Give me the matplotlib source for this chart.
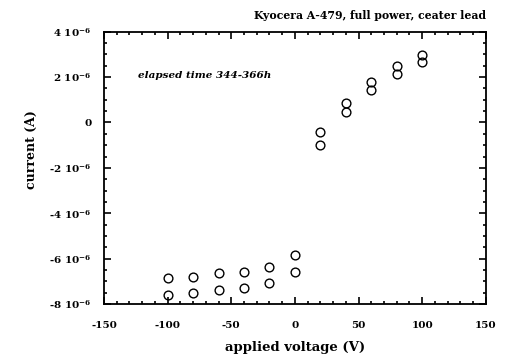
import numpy as np
import matplotlib
matplotlib.use("Agg")
import matplotlib.pyplot as plt
from matplotlib.ticker import MultipleLocator

plt.rcParams['font.family'] = ['DejaVu Serif']
plt.rcParams['font.weight'] = 'bold'
plt.rcParams['axes.unicode_minus'] = False
plt.rcParams['mathtext.fontset'] = 'custom'
plt.rcParams['mathtext.rm'] = 'DejaVu Serif:bold'
plt.rcParams['mathtext.it'] = 'DejaVu Serif:bold:italic'
plt.rcParams['mathtext.bf'] = 'DejaVu Serif:bold'

# voltage (V) and two readings of current (A) at each voltage
volts = [-100, -80, -60, -40, -20, 0, 20, 40, 60, 80, 100]
current_a = [-6.84e-6, -6.80e-6, -6.65e-6, -6.58e-6, -6.36e-6, -5.85e-6,
             -0.44e-6, 0.84e-6, 1.80e-6, 2.50e-6, 2.99e-6]
current_b = [-7.60e-6, -7.53e-6, -7.38e-6, -7.31e-6, -7.06e-6, -6.58e-6,
             -1.01e-6, 0.44e-6, 1.45e-6, 2.15e-6, 2.68e-6]

xticks = [-150, -100, -50, 0, 50, 100, 150]
yticks = [4e-6, 2e-6, 0, -2e-6, -4e-6, -6e-6, -8e-6]
ylabels = [r"4 10$^{-6}$", r"2 10$^{-6}$", "0", r"-2 10$^{-6}$",
           r"-4 10$^{-6}$", r"-6 10$^{-6}$", r"-8 10$^{-6}$"]

fig = plt.figure(figsize=(5.13, 3.58), dpi=100)
ax = fig.add_axes([0.2027, 0.1508, 0.7443, 0.7607])

ax.plot(volts, current_a, 'o', mfc='none', mec='black', ms=6.3, mew=1.0)
ax.plot(volts, current_b, 'o', mfc='none', mec='black', ms=6.3, mew=1.0)

ax.set_xlim(-150, 150)
ax.set_ylim(-8e-6, 4e-6)
ax.set_xticks(xticks)
ax.set_xticklabels([str(v) for v in xticks])
ax.set_yticks(yticks)
ax.set_yticklabels(ylabels)
ax.xaxis.set_minor_locator(MultipleLocator(10))
ax.yaxis.set_minor_locator(MultipleLocator(0.5e-6))
ax.tick_params(which='both', direction='in', top=True, right=True,
               labelsize=7.5, width=1.2)
ax.tick_params(which='major', length=5)
ax.tick_params(axis='x', which='major', pad=12)
ax.tick_params(axis='y', which='major', pad=9)
ax.tick_params(which='minor', length=2.5)
for s in ax.spines.values():
    s.set_linewidth(1.3)

ax.set_xlabel("applied voltage (V)", fontsize=9.5, fontweight='bold', labelpad=8)
ax.set_ylabel("current (A)", fontsize=9, fontweight='bold')
ax.yaxis.set_label_coords(-0.172, 0.566)
ax.set_title("Kyocera A-479, full power, ceater lead", fontsize=7.8,
             fontweight='bold', loc='right', pad=9)
ax.text(-123.3, 2.07e-6, "elapsed time 344-366h", fontsize=7.5,
        style='italic', fontweight='bold', ha='left', va='center')

fig.savefig("out.png", dpi=100)
